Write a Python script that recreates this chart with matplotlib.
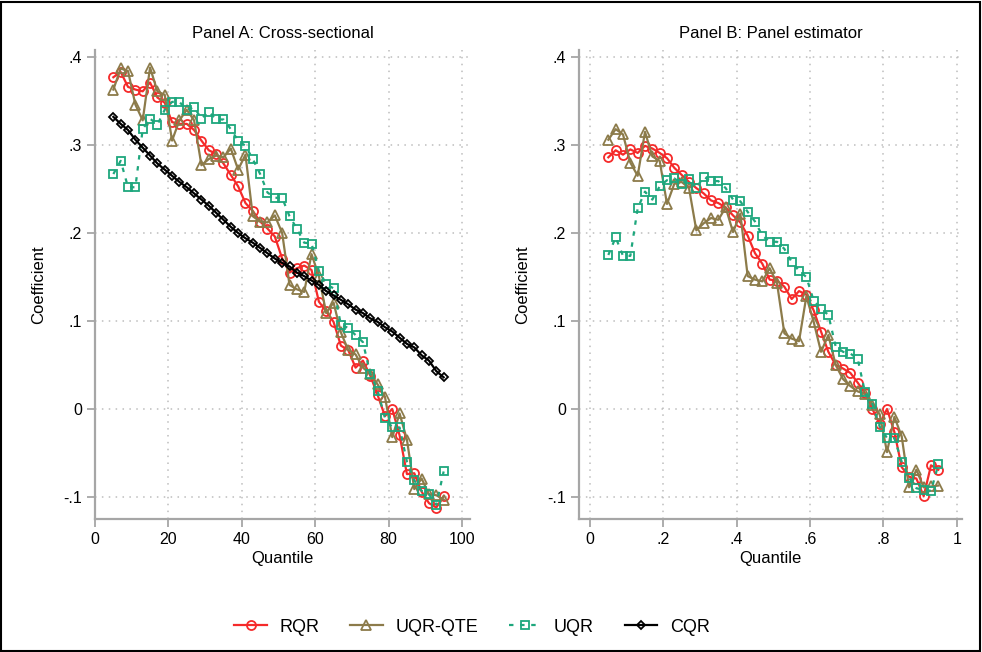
import matplotlib.pyplot as plt
from matplotlib.patches import Rectangle
from matplotlib.lines import Line2D

plt.rcParams['font.family'] = ['Liberation Sans', 'DejaVu Sans']

# Quantiles 5..95 (panel A) and 0.05..0.95 (panel B), step 2 / 0.02
q_a = list(range(5, 96, 2))
q_b = [q / 100 for q in q_a]

# Panel A: cross-sectional
rqr_a = [.377, .383, .366, .363, .361, .371, .354, .348, .326, .324,
         .324, .317, .305, .294, .290, .279, .266, .253, .234, .225,
         .213, .205, .196, .171, .155, .160, .163, .158, .122, .111,
         .099, .072, .067, .047, .055, .038, .016, -.008, .000, -.030,
         -.074, -.073, -.094, -.107, -.112, -.099]
uqr_qte_a = [.363, .387, .384, .346, .328, .388, .361, .357, .305, .328,
             .340, .328, .277, .284, .288, .286, .296, .272, .289, .219,
             .213, .212, .220, .200, .141, .136, .133, .176, .151, .109,
             .121, .087, .067, .062, .047, .040, .028, .014, -.032, -.005,
             -.035, -.091, -.079, -.097, -.098, -.103]
uqr_a = [.267, .282, .252, .252, .318, .330, .323, .340, .349, .349,
         .340, .343, .330, .338, .329, .329, .318, .305, .299, .284,
         .267, .246, .240, .240, .219, .205, .189, .188, .157, .142,
         .137, .096, .092, .084, .076, .040, .021, -.010, -.021, -.021,
         -.060, -.081, -.093, -.097, -.109, -.071]
cqr_a = [.332, .324, .317, .306, .297, .288, .279, .272, .265, .258,
         .252, .245, .238, .231, .223, .215, .207, .200, .194, .189,
         .183, .177, .171, .166, .162, .155, .151, .146, .141, .134,
         .129, .124, .119, .113, .109, .103, .099, .093, .088, .081,
         .074, .070, .061, .055, .043, .036]

# Panel B: panel estimator
rqr_b = [.286, .294, .289, .295, .291, .299, .296, .291, .285, .274,
         .266, .258, .251, .245, .237, .234, .229, .220, .212, .197,
         .177, .165, .147, .146, .139, .125, .134, .130, .112, .088,
         .065, .050, .046, .041, .030, .018, .000, -.017, .000, -.026,
         -.066, -.077, -.079, -.099, -.064, -.069]
uqr_qte_b = [.306, .318, .312, .280, .265, .315, .287, .282, .233, .256,
             .258, .251, .203, .211, .217, .215, .229, .201, .222, .151,
             .147, .145, .160, .143, .086, .080, .077, .128, .099, .065,
             .084, .050, .034, .026, .020, .017, .005, -.006, -.049, -.009,
             -.031, -.089, -.069, -.089, -.088, -.087]
uqr_b = [.175, .195, .174, .174, .228, .247, .238, .253, .260, .262,
         .256, .261, .251, .264, .259, .259, .251, .238, .236, .224,
         .213, .197, .190, .190, .182, .167, .157, .150, .123, .114,
         .107, .071, .065, .063, .057, .019, .006, -.020, -.033, -.033,
         -.060, -.078, -.090, -.092, -.093, -.063]

yticks = [-.1, 0, .1, .2, .3, .4]
ytick_labels = ["-.1", "0", ".1", ".2", ".3", ".4"]
xticks_a = [0, 20, 40, 60, 80, 100]
xticks_b = [0, .2, .4, .6, .8, 1]
xtick_labels_b = ["0", ".2", ".4", ".6", ".8", "1"]

RED = "#f52a2a"
OLIVE = "#8c7b4a"
TEAL = "#1ea77d"
GRID = "#bdbdbd"
AXIS = "#a6a6a6"

W, H = 982, 652
fig = plt.figure(figsize=(W / 100, H / 100), dpi=100)


def px_axes(left, right, top, bottom):
    return fig.add_axes([left / W, 1 - bottom / H, (right - left) / W, (bottom - top) / H])


ax_a = px_axes(95, 470, 50, 519)
ax_b = px_axes(579, 962, 50, 519)


def draw(ax, x, rqr, qte, uqr, cqr=None):
    ax.plot(x, rqr, color=RED, lw=1.6, marker="o", ms=6.5, mfc="none", mew=1.3)
    ax.plot(x, qte, color=OLIVE, lw=1.6, marker="^", ms=7.5, mfc="none", mew=1.3)
    ax.plot(x, uqr, color=TEAL, lw=1.6, ls=(0, (2, 3)), marker="s", ms=5.5, mfc="none", mew=1.3)
    if cqr is not None:
        ax.plot(x, cqr, color="black", lw=1.6, marker="D", ms=4.5, mfc="none", mew=1.3)


draw(ax_a, q_a, rqr_a, uqr_qte_a, uqr_a, cqr_a)
draw(ax_b, q_b, rqr_b, uqr_qte_b, uqr_b)

ylim = ((409 - 519) / 880, (409 - 50) / 880)
ax_a.set_xlim(0, (470 - 95) / 3.67)
ax_b.set_xlim((579 - 590) / 366.7, (962 - 590) / 366.7)

for ax, title, xt, xl in [(ax_a, "Panel A: Cross-sectional", xticks_a, [str(t) for t in xticks_a]),
                          (ax_b, "Panel B: Panel estimator", xticks_b, xtick_labels_b)]:
    ax.set_ylim(*ylim)
    ax.set_yticks(yticks)
    ax.set_yticklabels(ytick_labels)
    ax.set_xticks(xt)
    ax.set_xticklabels(xl)
    ax.grid(True, color=GRID, ls=(0, (1, 3.5)), lw=1.1)
    ax.set_axisbelow(True)
    for s in ["top", "right"]:
        ax.spines[s].set_visible(False)
    for s in ["left", "bottom"]:
        ax.spines[s].set_color(AXIS)
        ax.spines[s].set_linewidth(1.6)
    ax.tick_params(colors=AXIS, labelcolor="black", length=6, width=1.3, labelsize=11.5)
    ax.set_title(title, fontsize=12, pad=9)
    ax.set_xlabel("Quantile", fontsize=12, labelpad=3)
    ax.set_ylabel("Coefficient", fontsize=12, labelpad=12)

handles = [
    Line2D([], [], color=RED, lw=1.6, marker="o", ms=6.5, mfc="none", mew=1.3),
    Line2D([], [], color=OLIVE, lw=1.6, marker="^", ms=7.5, mfc="none", mew=1.3),
    Line2D([], [], color=TEAL, lw=1.6, ls=(0, (2, 3)), marker="s", ms=5.5, mfc="none", mew=1.3),
    Line2D([], [], color="black", lw=1.6, marker="D", ms=4.5, mfc="none", mew=1.3),
]
fig.legend(handles, ["RQR", "UQR-QTE", "UQR", "CQR"], loc="center",
           bbox_to_anchor=(472 / W, 1 - 627 / H), ncol=4, frameon=False,
           fontsize=13, handlelength=1.8, columnspacing=1.7, handletextpad=0.7)

fig.patches.append(Rectangle((0.001, 0.0015), 0.997, 0.996, transform=fig.transFigure,
                             fill=False, edgecolor="black", lw=1.5))

fig.savefig("out.png", dpi=100)
